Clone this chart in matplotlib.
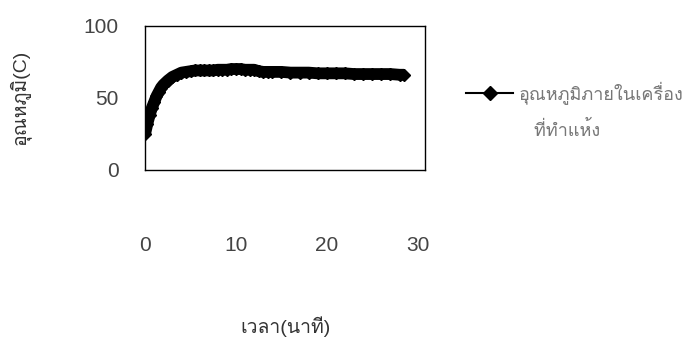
import matplotlib
matplotlib.use("Agg")
import matplotlib.pyplot as plt
from matplotlib import font_manager
from matplotlib.ft2font import FT2Font
from matplotlib.lines import Line2D

# time (minutes) and temperature (C)
minutes = [0, 0.25, 0.5, 0.75, 1, 1.25, 1.5, 1.75, 2, 2.5, 3, 3.5, 4, 4.5, 5, 5.5, 6,
           6.5, 7, 7.5, 8, 8.5, 9, 9.5, 10, 10.5, 11, 11.5, 12, 12.5, 13, 13.5, 14,
           15, 16, 17, 18, 19, 20, 21, 22, 23, 24, 25, 26, 27, 28, 28.5]
temp = [25, 32, 38, 43, 47, 51, 54, 57, 59, 62, 64.5, 66, 67.5, 68, 68.5, 69, 69,
        69, 69, 69, 69.5, 69.5, 69.5, 70, 70, 70, 69.5, 69.5, 69.5, 68.5, 68, 68, 68,
        68, 67.5, 67.5, 67.5, 67, 67, 67, 67, 66.5, 66.5, 66.5, 66.5, 66.5, 66, 66]

series_label = ["อุณหภูมิภายในเครื่อง", "   ที่ทำแห้ง"]
x_label = "เวลา(นาที)"
y_label = "อุณหภูมิ(C)"
x_ticks = [0, 10, 20, 30]
y_ticks = [0, 50, 100]

# look for any installed font that can draw Thai
thai = []
for f in font_manager.fontManager.ttflist:
    try:
        if ord("อ") in FT2Font(f.fname).get_charmap():
            thai.append(f.name)
    except Exception:
        pass
fams = ["Liberation Sans"] + thai[:1] + ["DejaVu Sans"]
plt.rcParams["font.family"] = fams

fig = plt.figure(figsize=(6.91, 3.46), dpi=100)
ax = fig.add_axes([0.21, 0.51, 0.405, 0.415])
# points are so dense in the original that they merge into a thick band
ax.plot(minutes, temp, color="black", lw=8.5, solid_capstyle="butt",
        solid_joinstyle="round", marker="D", ms=6)

ax.set_xlim(0, 30.8)
ax.set_ylim(0, 100)
ax.set_xticks(x_ticks)
ax.set_yticks(y_ticks)
ax.tick_params(axis="x", length=0, pad=48, labelsize=15, colors="#444444")
ax.tick_params(axis="y", length=0, pad=19, labelsize=15, colors="#444444")
for s in ax.spines.values():
    s.set_linewidth(1)
ax.set_xlabel(x_label, fontsize=14, labelpad=44, color="#333333")
ax.set_ylabel(y_label, fontsize=14, labelpad=38, color="#333333")

handle = Line2D([], [], color="black", lw=1.5, marker="D", ms=7)
blank = Line2D([], [], lw=0)
leg = ax.legend([handle, blank], series_label, loc="center left",
                bbox_to_anchor=(1.09, 0.41), frameon=False, fontsize=13,
                handlelength=2.6, handletextpad=0.3, labelspacing=0.9,
                labelcolor="#777777")

fig.savefig("out.png", dpi=100)
